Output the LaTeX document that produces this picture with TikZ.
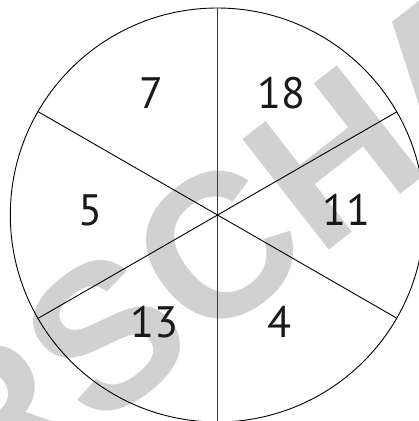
\documentclass[tikz,border=0pt]{standalone}
\usepackage{fontspec}
\setmainfont{PT Sans}
\newfontfamily\wmfont{Liberation Sans}
\begin{document}
\begin{tikzpicture}[x=1pt,y=-1pt,
  rim/.style={draw=black,line width=0.9pt},
  spoke/.style={draw=black,line width=0.9pt},
  axis/.style={draw=black!78,line width=1.3pt},
  num/.style={font=\fontsize{44}{44}\selectfont,text=black!90,inner sep=0pt},
  wm/.style={font=\wmfont\bfseries\fontsize{204}{204}\selectfont,text=black!18,inner sep=0pt,rotate=38}]
\useasboundingbox (0,0) rectangle (419,421);
\clip (0,0) rectangle (419,421);
\node[wm] (mark) at (164,290) {VORSCHAU};
\coordinate (c) at (217.3,215);
\coordinate (top) at (217.3,8);
\coordinate (bot) at (217.3,422);
\coordinate (ul) at (38.3,111.8);
\coordinate (ur) at (396.8,111.8);
\coordinate (ll) at (38.3,318.2);
\coordinate (lr) at (396.8,318.2);
\draw[rim] (c) circle[radius=207];
\draw[axis] (top) -- (bot);
\draw[spoke] (ul) -- (lr);
\draw[spoke] (ll) -- (ur);
\node[num] (n7) at (151.7,93.3) {7};
\node[num] (n18) at (281.7,93.3) {18};
\node[num] (n5) at (90,210) {5};
\node[num] (n11) at (346.7,210) {11};
\node[num] (n13) at (154.3,321.7) {13};
\node[num] (n4) at (279.3,321.7) {4};
\end{tikzpicture}
\end{document}
